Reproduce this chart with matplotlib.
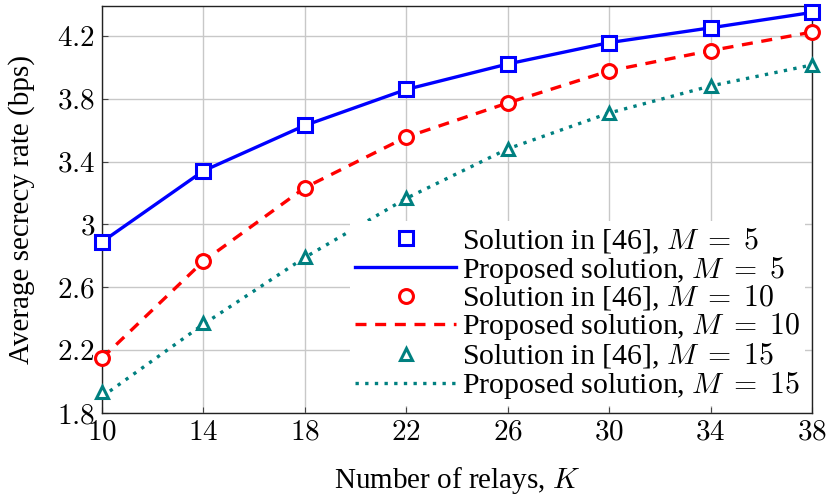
import matplotlib
matplotlib.use("Agg")
import matplotlib.pyplot as plt

# relays K and secrecy rates (bps)
relays = [10, 14, 18, 22, 26, 30, 34, 38]

ref_m5 = [2.889, 3.341, 3.630, 3.859, 4.021, 4.157, 4.251, 4.349]
ref_m10 = [2.149, 2.766, 3.234, 3.556, 3.773, 3.977, 4.106, 4.224]
ref_m15 = [1.935, 2.370, 2.790, 3.166, 3.481, 3.709, 3.881, 4.015]

prop_m5 = [2.889, 3.341, 3.630, 3.859, 4.021, 4.157, 4.251, 4.349]
prop_m10 = [2.149, 2.766, 3.234, 3.556, 3.773, 3.977, 4.106, 4.224]
prop_m15 = [1.904, 2.365, 2.790, 3.166, 3.481, 3.709, 3.881, 4.015]

x_ticks = [10, 14, 18, 22, 26, 30, 34, 38]
x_labels = ["$10$", "$14$", "$18$", "$22$", "$26$", "$30$", "$34$", "$38$"]
y_ticks = [1.8, 2.2, 2.6, 3.0, 3.4, 3.8, 4.2]
y_labels = ["$1.8$", "$2.2$", "$2.6$", "$3$", "$3.4$", "$3.8$", "$4.2$"]

BLUE = "#0000ff"
RED = "#ff0000"
TEAL = "#008080"

plt.rcParams["font.family"] = ["Liberation Serif", "DejaVu Serif"]
plt.rcParams["mathtext.fontset"] = "cm"
plt.rcParams["font.size"] = 21

fig = plt.figure(figsize=(8.3, 4.96), dpi=100)
ax = fig.add_axes([0.1229, 0.1673, 0.8554, 0.8206])

# proposed solution: lines
ax.plot(relays, prop_m5, color=BLUE, lw=2.4, zorder=3)
ax.plot(relays, prop_m10, color=RED, lw=2.4, dashes=(3.3, 2.6), zorder=3)
ax.plot(relays, prop_m15, color=TEAL, lw=2.4, dashes=(1.0, 1.9), zorder=3)

# solution in [46]: markers
mk = dict(ls="none", mfc="white", mew=2.2, clip_on=False, zorder=4)
ax.plot(relays, ref_m5, marker="s", ms=10, color=BLUE, **mk)
ax.plot(relays, ref_m10, marker="o", ms=10, color=RED, **mk)
ax.plot(relays, ref_m15, marker="^", ms=9, color=TEAL, **mk)

ax.set_xlim(10, 38)
ax.set_ylim(1.8, 4.39)
ax.set_xticks(x_ticks)
ax.set_xticklabels(x_labels)
ax.set_yticks(y_ticks)
ax.set_yticklabels(y_labels)
ax.tick_params(direction="in", length=4, width=0.8, pad=5, color="#444444")
ax.grid(True, color="#c8c8c8", lw=1.0)
ax.set_axisbelow(True)
for s in ax.spines.values():
    s.set_linewidth(1.0)
    s.set_color("#222222")

ax.set_xlabel("Number of relays, $K$", labelpad=14)
ax.set_ylabel("Average secrecy rate (bps)", labelpad=16)

# legend handles
h = [
    plt.Line2D([], [], marker="s", ms=10, color=BLUE, ls="none", mfc="white", mew=2.2),
    plt.Line2D([], [], color=BLUE, lw=2.4),
    plt.Line2D([], [], marker="o", ms=10, color=RED, ls="none", mfc="white", mew=2.2),
    plt.Line2D([], [], color=RED, lw=2.4, dashes=(3.3, 2.6)),
    plt.Line2D([], [], marker="^", ms=9, color=TEAL, ls="none", mfc="white", mew=2.2),
    plt.Line2D([], [], color=TEAL, lw=2.4, dashes=(1.0, 1.9)),
]
labels = [
    r"Solution in [46], $M\;=\;5$",
    r"Proposed solution, $M\;=\;5$",
    r"Solution in [46], $M\;=\;10$",
    r"Proposed solution, $M\;=\;10$",
    r"Solution in [46], $M\;=\;15$",
    r"Proposed solution, $M\;=\;15$",
]
leg = ax.legend(h, labels, loc="lower right", fontsize=21.5, handlelength=3.4,
                handletextpad=0.2, labelspacing=-0.06, borderpad=0.15,
                borderaxespad=0.25, frameon=True, fancybox=False, framealpha=1.0)
leg.get_frame().set_edgecolor("none")
leg.set_zorder(5)

fig.savefig("out.png", dpi=100)
